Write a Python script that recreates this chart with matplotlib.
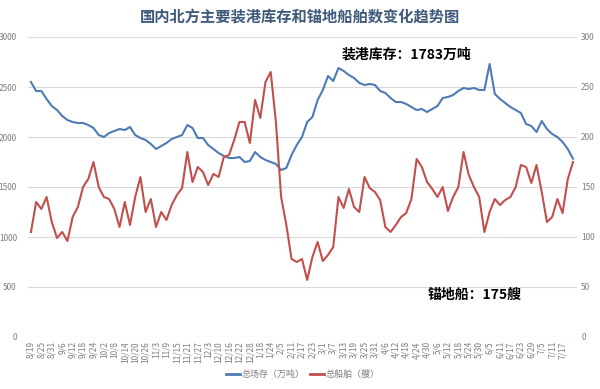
import numpy as np
import matplotlib
matplotlib.use("Agg")
import matplotlib.pyplot as plt

plt.rcParams['font.family'] = ['Noto Sans CJK SC', 'DejaVu Sans']

# tick labels, one every 6 data points
date_labels = ["8/19", "8/25", "8/31", "9/6", "9/12", "9/18", "9/24", "10/2", "10/8",
               "10/14", "10/20", "10/26", "11/3", "11/9", "11/15", "11/21", "11/27",
               "12/3", "12/10", "12/16", "12/22", "12/28", "1/18", "1/24", "2/5",
               "2/11", "2/17", "2/23", "3/1", "3/7", "3/13", "3/19", "3/25", "3/31",
               "4/6", "4/12", "4/18", "4/24", "4/30", "5/6", "5/12", "5/18", "5/24",
               "5/30", "6/5", "6/11", "6/17", "6/23", "6/29", "7/5", "7/11", "7/17"]

# values read every 3 data points
stock = [2550, 2460, 2460, 2380, 2310, 2270, 2210, 2170, 2150, 2140,
         2140, 2120, 2090, 2020, 2000, 2040, 2060, 2080, 2070, 2100,
         2020, 1990, 1970, 1930, 1880, 1910, 1940, 1980, 2000, 2020,
         2120, 2090, 1990, 1990, 1920, 1880, 1840, 1810, 1790, 1790,
         1800, 1750, 1760, 1850, 1800, 1770, 1750, 1730, 1670, 1690,
         1820, 1920, 2000, 2150, 2200, 2370, 2470, 2610, 2560, 2690,
         2660, 2620, 2590, 2540, 2520, 2530, 2520, 2460, 2440, 2390,
         2350, 2350, 2330, 2300, 2270, 2280, 2250, 2280, 2310, 2390,
         2400, 2420, 2460, 2490, 2480, 2490, 2470, 2470, 2730, 2430,
         2380, 2340, 2300, 2270, 2240, 2130, 2110, 2050, 2160, 2080,
         2030, 2000, 1950, 1880, 1783]

ships = [105, 135, 128, 140, 115, 99, 105, 96, 120, 130,
         150, 158, 175, 150, 140, 138, 128, 110, 135, 112,
         140, 160, 125, 138, 110, 125, 117, 132, 142, 149,
         185, 155, 170, 165, 152, 163, 160, 180, 182, 197,
         215, 215, 194, 237, 219, 255, 265, 215, 140, 112,
         78, 75, 78, 57, 80, 95, 76, 82, 90, 140,
         129, 148, 130, 125, 160, 149, 145, 137, 110, 105,
         112, 120, 124, 138, 178, 170, 155, 148, 140, 150,
         126, 140, 150, 185, 162, 150, 140, 105, 125, 138,
         132, 137, 140, 150, 172, 170, 154, 172, 145, 115,
         120, 138, 124, 158, 175]

blue = "#4f7bb3"
red = "#c0504d"
grey = "#7f7f7f"

x = np.arange(len(stock)) * 3

fig = plt.figure(figsize=(6, 3.89), dpi=100)
ax = fig.add_axes([28 / 600, 1 - 337 / 389, 549 / 600, 300 / 389])
ax2 = ax.twinx()

ax.plot(x, stock, color=blue, lw=1.5, zorder=3)
ax2.plot(x, ships, color=red, lw=1.5, zorder=3)

ax.set_ylim(0, 3000)
ax2.set_ylim(0, 300)
ax.set_xlim(-1.7, 314.3)
ax.set_yticks(np.arange(0, 3001, 500))
ax2.set_yticks(np.arange(0, 301, 50))
ax.grid(axis='y', color="#d9d9d9", lw=0.8)
ax.set_axisbelow(True)

ax.set_xticks(np.arange(len(date_labels)) * 6)
ax.set_xticklabels(date_labels, rotation=90, fontsize=6, color=grey)
ax.tick_params(axis='x', length=0, pad=3)
ax.tick_params(axis='y', length=0, labelsize=6, labelcolor=grey, pad=8)
ax2.tick_params(axis='y', length=0, labelsize=6, labelcolor=grey, pad=3)
for a in (ax, ax2):
    for s in a.spines.values():
        s.set_visible(False)

fig.text(0.5, 1 - 17 / 389, "国内北方主要装港库存和锚地船舶数变化趋势图",
         ha='center', va='center', fontsize=11, color="#3f5a7a", fontweight='bold')
fig.text(407 / 600, 1 - 54 / 389, "装港库存：1783万吨", ha='center', va='center',
         fontsize=10, fontweight='bold', color="black")
fig.text(475 / 600, 1 - 295 / 389, "锚地船：175艘", ha='center', va='center',
         fontsize=10, fontweight='bold', color="black")

# legend
ly = 1 - 374 / 389
fig.add_artist(plt.Line2D([226 / 600, 240 / 600], [ly, ly], color=blue, lw=2))
fig.text(242 / 600, ly, "总场存（万吨）", va='center', fontsize=6.5, color=grey)
fig.add_artist(plt.Line2D([310 / 600, 324 / 600], [ly, ly], color=red, lw=2))
fig.text(326 / 600, ly, "总船舶（艘）", va='center', fontsize=6.5, color=grey)

fig.savefig("out.png", dpi=100)
